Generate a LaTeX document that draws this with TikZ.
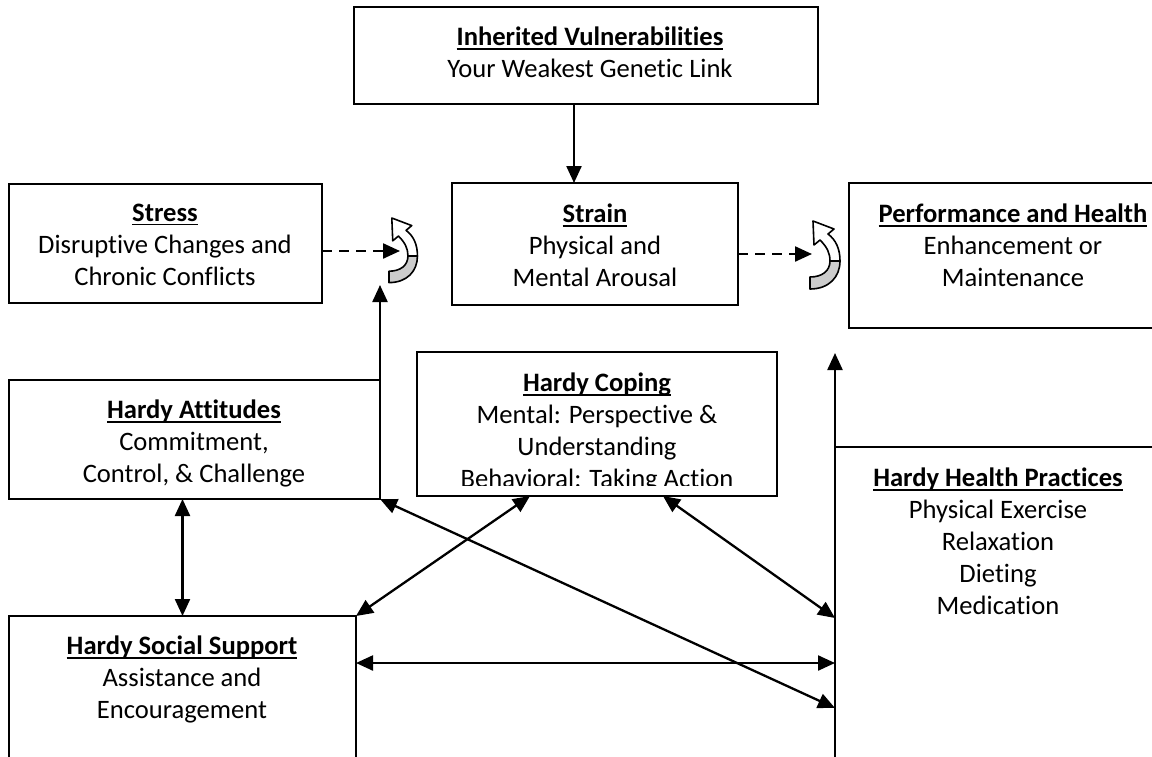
\documentclass[tikz,border=0pt]{standalone}
\usepackage{fontspec}
\setmainfont{Carlito}[Ligatures={NoCommon}]
\usetikzlibrary{arrows.meta}
\newlength\ulw
\newcommand\ttl[1]{\settowidth\ulw{\bfseries #1}\rlap{\rule[-3.8pt]{\ulw}{1.9pt}}{\bfseries #1}}
\newcommand\curlshape{%
  \path[curlw] (19,13) -- (25,8) -- (4,0) -- (5,24) -- (11,19) .. controls (18,26) and (21,32) .. (21,40) -- (31,40) .. controls (31,28) and (27,19) .. (19,13) -- cycle;
  \path[curlg] (21,40) .. controls (21,50) and (13,56) .. (1,56) -- (1,68) .. controls (20,68) and (31,56) .. (31,40) -- cycle;}
\begin{document}
\begin{tikzpicture}[x=1pt,y=-1pt,
  box/.style={draw, line width=2.2pt, inner sep=0pt, outer sep=0pt, anchor=north west},
  txt/.style={align=center, font=\fontsize{26.6}{32}\selectfont, inner sep=0pt, anchor=north},
  con/.style={line width=2.3pt, -{Triangle[length=17pt,width=15pt]}},
  bicon/.style={line width=2.3pt, {Triangle[length=17pt,width=15pt]}-{Triangle[length=17pt,width=15pt]}},
  dcon/.style={con, dash pattern=on 10pt off 7pt},
  curlw/.style={draw, line width=1.6pt, fill=white, line join=round},
  curlg/.style={draw, line width=1.6pt, fill=gray!40, line join=round}]
\clip (0,0) rectangle (1152,756);
\fill[white] (0,0) rectangle (1152,756);
% boxes
\node[box, minimum width=464pt, minimum height=97pt] (inh) at (354,7) {};
\node[box, minimum width=313pt, minimum height=119pt] (stress) at (9,184) {};
\node[box, minimum width=286pt, minimum height=122pt] (strain) at (452,183) {};
\node[box, minimum width=341pt, minimum height=145pt] (perf) at (849,183) {};
\node[box, minimum width=371pt, minimum height=119pt] (att) at (9,380) {};
\node[box, minimum width=360pt, minimum height=144pt] (coping) at (417,352) {};
\node[box, minimum width=330pt, minimum height=360pt] (health) at (835,447) {};
\node[box, minimum width=347pt, minimum height=200pt] (social) at (9,616) {};
% texts
\node[txt] (inht) at (590,27) {\ttl{Inherited Vulnerabilities}\\Your Weakest Genetic Link};
\node[txt] (stresst) at (165,204) {\ttl{Stress}\\Disruptive Changes and\\Chronic Conflicts};
\node[txt] (straint) at (595,204) {\ttl{Strain}\\Physical and\\Mental Arousal};
\node[txt] (perft) at (1013,204) {\ttl{Performance and Health}\\Enhancement or\\Maintenance};
\node[txt] (attt) at (194,400) {\ttl{Hardy Attitudes}\\Commitment,\\Control, \& Challenge};
\begin{scope}
\clip (417,352) rectangle (777,485);
\node[txt] (copingt) at (597,373) {\ttl{Hardy Coping}\\Mental: Perspective \&\\Understanding\\Behavioral: Taking Action};
\end{scope}
\node[txt] (healtht) at (998,468) {\ttl{Hardy Health Practices}\\Physical Exercise\\Relaxation\\Dieting\\Medication};
\node[txt] (socialt) at (182,636) {\ttl{Hardy Social Support}\\Assistance and\\Encouragement};
% curls
\begin{scope}[shift={(388,218)}, scale=0.95]\curlshape\end{scope}
\begin{scope}[shift={(809,221)}]\curlshape\end{scope}
% connectors
\coordinate (inhout) at ([xshift=-12pt]inh.south);
\draw[con] (inhout) -- (inhout |- strain.north);
\coordinate (c1) at (400,251);
\draw[dcon] (stress.east |- c1) -- (c1);
\coordinate (c2) at (812,254);
\draw[dcon] (strain.east |- c2) -- (c2);
\coordinate (c1b) at (380,285);
\draw[con] (att.north east) -- (c1b);
\coordinate (c2b) at (835,353);
\draw[con] (health.north west) -- (c2b);
\draw[bicon] (social.north |- att.south) -- (social.north);
\draw[bicon] ([xshift=113pt]coping.south west) -- (social.north east);
\draw[bicon] ([xshift=246pt]coping.south west) -- ([yshift=-171pt]health.north west);
\draw[bicon] (att.south east) -- ([yshift=-261pt]health.north west);
\draw[bicon] ([yshift=-47pt]social.north east) -- ([yshift=-216pt]health.north west);
\end{tikzpicture}
\end{document}
